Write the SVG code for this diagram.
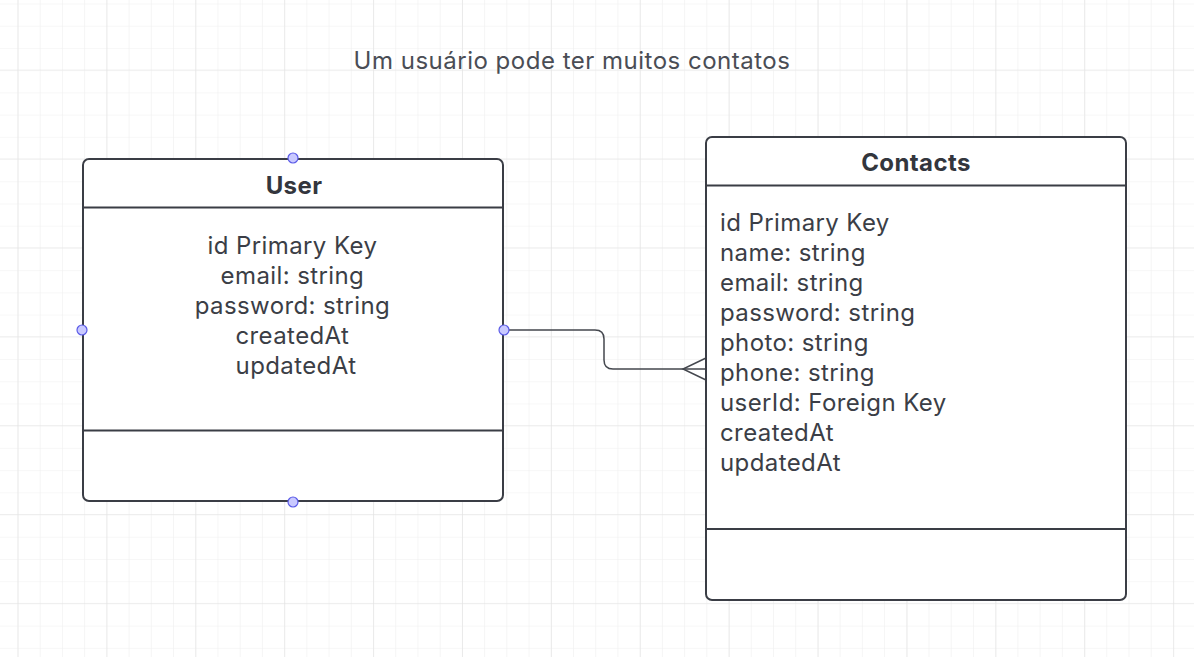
<svg xmlns="http://www.w3.org/2000/svg" width="1194" height="657" viewBox="0 0 1194 657">
<style>
.box{fill:#fff;stroke:#3a3d45;stroke-width:2}
.sep{stroke:#3a3d45;stroke-width:2}
.hdr{font-family:Inter,"Noto Sans",sans-serif;font-weight:700;font-size:24px;letter-spacing:0.4px;fill:#33363d;text-anchor:middle}
.fld{font-family:Inter,"Noto Sans",sans-serif;font-size:24px;letter-spacing:0.4px;fill:#3b3e46}
.handle{fill:#c9c9ff;stroke:#5b5be8;stroke-width:1.2}
.conn{fill:none;stroke:#44474e;stroke-width:1.5}
</style>
<defs>
<pattern id="minor" x="17.5" y="3.5" width="22.22" height="22.22" patternUnits="userSpaceOnUse">
<path d="M0 0V22.22M0 0H22.22" fill="none" stroke="#efefef" stroke-width="1.2"/>
</pattern>
<pattern id="major" x="17.5" y="69.5" width="88.9" height="88.9" patternUnits="userSpaceOnUse">
<path d="M0 0V88.9M0 0H88.9" fill="none" stroke="#e2e2e2" stroke-width="1.2"/>
</pattern>
</defs>
<rect width="1194" height="657" fill="#fff"/>
<rect width="1194" height="657" fill="url(#minor)"/>
<rect width="1194" height="657" fill="url(#major)"/>
<text x="572" y="69" font-family="Inter,'Noto Sans',sans-serif" font-size="24" letter-spacing="0.5" fill="#4a4d55" text-anchor="middle">Um usuário pode ter muitos contatos</text>
<g id="connectors">
<path class="conn" d="M504 330H595Q604 330 604 339V360Q604 369 613 369H706"/>
<path class="conn" d="M706 358L683 369L706 380"/>
</g>
<g id="user">
<rect class="box" x="83" y="159" width="420" height="342" rx="6"/>
<line class="sep" x1="83" y1="207.5" x2="503" y2="207.5"/>
<line class="sep" x1="83" y1="430.5" x2="503" y2="430.5"/>
<text class="hdr" x="294" y="193.5">User</text>
<text class="fld" text-anchor="middle">
<tspan x="296" y="253.5">id Primary Key</tspan>
<tspan x="296" y="283.5">email: string</tspan>
<tspan x="296" y="313.5">password: string</tspan>
<tspan x="296" y="343.5">createdAt</tspan>
<tspan x="296" y="373.5">updatedAt</tspan>
</text>
<circle class="handle" cx="293" cy="158" r="5"/>
<circle class="handle" cx="82" cy="330" r="5"/>
<circle class="handle" cx="504" cy="330" r="5"/>
<circle class="handle" cx="293" cy="502" r="5"/>
</g>
<g id="contacts">
<rect class="box" x="706" y="137" width="420" height="463" rx="6"/>
<line class="sep" x1="706" y1="185.5" x2="1126" y2="185.5"/>
<line class="sep" x1="706" y1="529" x2="1126" y2="529"/>
<text class="hdr" x="916" y="171">Contacts</text>
<text class="fld">
<tspan x="720" y="231">id Primary Key</tspan>
<tspan x="720" y="261">name: string</tspan>
<tspan x="720" y="291">email: string</tspan>
<tspan x="720" y="321">password: string</tspan>
<tspan x="720" y="351">photo: string</tspan>
<tspan x="720" y="381">phone: string</tspan>
<tspan x="720" y="411">userId: Foreign Key</tspan>
<tspan x="720" y="441">createdAt</tspan>
<tspan x="720" y="471">updatedAt</tspan>
</text>
</g>
</svg>
